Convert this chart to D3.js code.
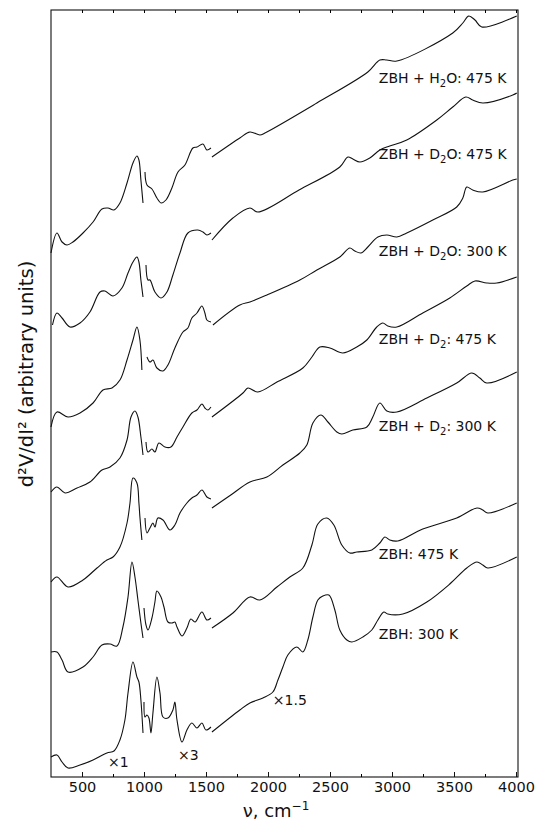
<!DOCTYPE html>
<html>
<head>
<meta charset="utf-8">
<script src="https://cdn.jsdelivr.net/npm/d3@7/dist/d3.min.js"></script>
<style>
body { margin: 0; background: #fff; }
text { font-family: "DejaVu Sans", sans-serif; fill: #111; }
</style>
</head>
<body>
<div id="chart"></div>
<script>
// [wavenumber cm-1, d2V/dI2 arbitrary units (trace offset included)], null = pen break
var h2o475 = [[250,524],[298,544],[339,535],[379,532],[427,535],[508,544],[589,555],[661,568],[709,569],[758,567],[806,574],[863,594],[911,614],[943,621],[959,617],[975,597],[992,574],null,
  [1008,605],[1024,592],[1064,588],[1104,579],[1137,574],[1177,577],[1225,589],[1274,605],[1330,612],[1394,629],[1427,630],[1475,633],[1507,627],[1540,629],null,
  [1548,620],[1773,639],[1854,645],[1935,642],[1975,644],[2394,674],[2805,705],[2902,717],[2958,717],[3039,716],[3490,744],[3571,754],[3619,761],[3669,757],[3724,750],[4006,761]];
var d2o475 = [[262,452],[298,464],[339,459],[403,450],[484,454],[564,465],[645,485],[685,486],[750,481],[822,489],[871,504],[911,515],[943,520],[959,515],[975,497],[992,480],null,
  [1016,512],[1032,497],[1048,497],[1088,485],[1137,479],[1185,485],[1233,502],[1290,524],[1354,544],[1435,547],[1475,545],[1507,542],[1540,544],null,
  [1548,537],[1717,559],[1854,569],[1918,565],[2250,587],[2579,610],[2644,620],[2684,618],[2741,615],[2821,619],[2902,627],[2982,631],[3119,637],[3361,657],[3490,670],[3595,680],[3651,677],[3732,674],[3974,682],[4006,684]];
var d2o300 = [[250,350],[298,365],[387,360],[484,364],[589,374],[669,387],[742,389],[806,397],[863,417],[911,437],[943,450],[967,437],[983,407],null,
  [1024,420],[1048,415],[1072,417],[1104,409],[1153,406],[1193,412],[1249,429],[1314,445],[1354,449],[1386,459],[1427,464],[1467,471],[1491,464],[1507,457],[1540,455],null,
  [1556,452],[1773,472],[1854,475],[1991,482],[2257,497],[2394,507],[2579,520],[2660,529],[2700,526],[2749,524],[2805,530],[2886,540],[2958,542],[3039,540],[3119,544],[3329,557],[3522,570],[3571,579],[3603,590],[3651,587],[3732,585],[3974,597],[4006,598]];
var d2475 = [[250,285],[298,290],[363,284],[460,289],[564,295],[661,307],[726,310],[806,319],[863,337],[895,360],[927,366],[951,360],[975,340],[992,322],null,
  [1016,335],[1032,325],[1064,328],[1088,325],[1120,334],[1169,330],[1217,330],[1266,340],[1314,350],[1386,364],[1427,367],[1467,373],[1491,369],[1515,367],[1540,370],null,
  [1548,360],[1798,384],[1838,389],[1918,385],[2072,395],[2281,409],[2354,420],[2418,430],[2499,429],[2603,424],[2716,430],[2797,437],[2877,450],[2926,454],[2966,451],[3039,450],[3248,464],[3466,479],[3603,491],[3669,496],[3764,494],[3845,494],[4006,500]];
var d2300 = [[250,195],[298,200],[387,190],[508,197],[621,209],[701,217],[750,220],[806,230],[863,254],[887,274],[911,299],[943,294],[959,274],[967,260],[983,237],null,
  [1008,259],[1024,244],[1048,249],[1072,254],[1088,250],[1112,259],[1153,257],[1209,247],[1249,252],[1290,264],[1346,274],[1386,279],[1427,282],[1467,287],[1507,280],[1540,278],null,
  [1548,269],[1700,282],[1854,295],[1991,300],[2120,312],[2257,324],[2313,332],[2362,354],[2426,362],[2483,355],[2555,345],[2595,343],[2684,347],[2797,350],[2845,360],[2902,374],[2958,366],[3039,365],[3281,379],[3522,394],[3643,404],[3708,399],[3764,394],[4006,405]];
var zbh475 = [[250,125],[298,125],[339,117],[387,105],[508,110],[589,120],[661,132],[726,133],[782,131],[830,150],[871,180],[903,215],[927,200],[951,177],[975,154],[992,139],null,
  [1000,169],[1016,152],[1032,147],[1064,159],[1088,175],[1104,186],[1137,180],[1161,170],[1193,155],[1225,154],[1249,155],[1266,150],[1306,141],[1346,149],[1378,158],[1411,155],[1467,165],[1507,157],[1540,159],null,
  [1548,149],[1717,164],[1854,180],[1935,177],[2072,190],[2176,200],[2281,209],[2354,232],[2402,253],[2474,259],[2531,252],[2595,232],[2660,224],[2716,225],[2837,227],[2902,234],[2942,240],[2982,237],[3047,236],[3248,248],[3522,259],[3685,269],[3732,267],[3772,264],[4006,274]];
var zbh300 = [[250,20],[298,22],[339,15],[387,9],[484,12],[589,17],[701,24],[758,26],[806,37],[846,57],[871,84],[911,115],[943,100],[959,95],[975,77],[992,44],null,
  [1000,75],[1008,60],[1024,62],[1040,59],[1056,44],[1072,64],[1104,100],[1129,84],[1153,60],[1193,59],[1233,67],[1249,75],[1266,57],[1306,35],[1346,47],[1386,54],[1427,49],[1467,54],[1499,47],[1540,50],null,
  [1548,45],[1773,67],[1854,74],[1959,79],[2039,85],[2080,97],[2120,110],[2160,122],[2233,130],[2281,125],[2321,137],[2362,160],[2402,177],[2442,181],[2491,182],[2539,167],[2579,147],[2636,137],[2676,135],[2765,140],[2837,147],[2886,157],[2934,165],[2966,163],[3087,163],[3281,175],[3466,193],[3603,209],[3685,215],[3732,212],[3772,209],[4006,220]];

// label text pieces: [before subscript, subscript, after]
var seriesNames = [["ZBH + H","2","O: 475 K"],["ZBH + D","2","O: 475 K"],["ZBH + D","2","O: 300 K"],
  ["ZBH + D","2",": 475 K"],["ZBH + D","2",": 300 K"],["ZBH: 475 K","",""],["ZBH: 300 K","",""]];
var seriesData = [h2o475, d2o475, d2o300, d2475, d2300, zbh475, zbh300];
var xTicks = [500,1000,1500,2000,2500,3000,3500,4000];
var xMinor = [750,1250,1750,2250,2750,3250,3750];

// layout
var W = 539, H = 821;
var pL = 51, pR = 518, pT = 10, pB = 777;
var labelX = 2894;
var labelY = [694,618,521,433,346,218,138];
var gainMarks = [["\u00d71",709,10],["\u00d73",1274,17],["\u00d71.5",2039,72]];

var svg = d3.select("#chart").append("svg").attr("width", W).attr("height", H);

var x = d3.scaleLinear().domain([250, 4016]).range([pL, pR]);
var y = d3.scaleLinear().domain([0, 767]).range([pB, pT]);

// frame
svg.append("rect")
  .attr("x", pL).attr("y", pT)
  .attr("width", pR - pL).attr("height", pB - pT)
  .attr("fill", "none").attr("stroke", "#111").attr("stroke-width", 1.1);

var xAxis = svg.append("g")
  .attr("transform", "translate(0," + pB + ")")
  .call(d3.axisBottom(x).tickValues(xTicks).tickSize(-5).tickPadding(5).tickFormat(d3.format("d")));
xAxis.select(".domain").remove();
xAxis.selectAll("text").style("font-size", "14.5px").attr("fill", "#111");
xAxis.selectAll("line").attr("stroke", "#111");

var xAxisMinor = svg.append("g")
  .attr("transform", "translate(0," + pB + ")")
  .call(d3.axisBottom(x).tickValues(xMinor).tickSize(-3).tickFormat(""));
xAxisMinor.select(".domain").remove();

var xAxisTop = svg.append("g")
  .attr("transform", "translate(0," + pT + ")")
  .call(d3.axisTop(x).tickValues(xTicks.concat(xMinor)).tickSize(-3).tickFormat(""));
xAxisTop.select(".domain").remove();

// traces
var line = d3.line()
  .defined(function(d) { return d; })
  .x(function(d) { return x(d[0]); })
  .y(function(d) { return y(d[1]); })
  .curve(d3.curveCatmullRom.alpha(0.5));

svg.selectAll(".trace")
  .data(seriesData)
  .enter().append("path")
  .attr("class", "trace")
  .attr("d", line)
  .attr("fill", "none")
  .attr("stroke", "#111")
  .attr("stroke-width", 1.1)
  .attr("stroke-linejoin", "round");

// trace labels
seriesNames.forEach(function(n, i) {
  var t = svg.append("text")
    .attr("x", x(labelX)).attr("y", y(labelY[i]))
    .style("font-size", "14px");
  t.append("tspan").text(n[0]);
  if (n[1]) {
    t.append("tspan").attr("dy", 4).style("font-size", "10px").text(n[1]);
    t.append("tspan").attr("dy", -4).text(n[2]);
  }
});

// gain marks
gainMarks.forEach(function(g) {
  svg.append("text")
    .attr("x", x(g[1])).attr("y", y(g[2]))
    .style("font-size", "14px")
    .text(g[0]);
});

// axis titles
var xt = svg.append("text")
  .attr("x", 276).attr("y", 817)
  .attr("text-anchor", "middle")
  .style("font-size", "18px");
xt.append("tspan").text("\u03bd, cm");
xt.append("tspan").attr("dy", -7).style("font-size", "12px").text("\u22121");

svg.append("text")
  .attr("transform", "translate(33,374) rotate(-90)")
  .attr("text-anchor", "middle")
  .style("font-size", "19.5px")
  .text("d\u00b2V/dI\u00b2 (arbitrary units)");
</script>
</body>
</html>
